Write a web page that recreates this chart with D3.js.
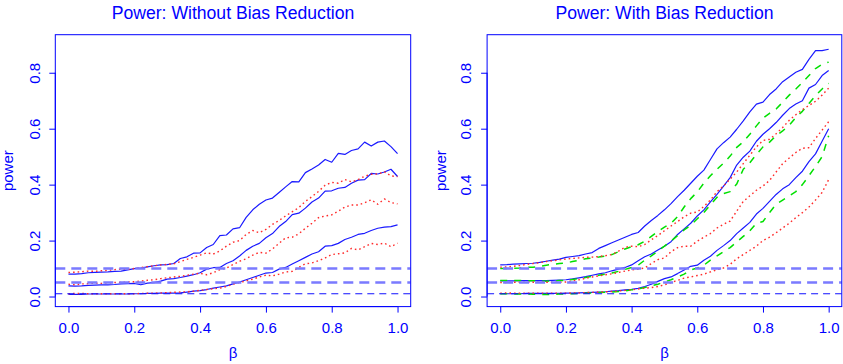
<!DOCTYPE html>
<html><head><meta charset="utf-8">
<script src="https://cdn.jsdelivr.net/npm/d3@7"></script>
<style>body{margin:0;background:#fff}svg{display:block}</style>
</head><body>
<svg id="c" width="843" height="364"></svg>
<script>
const beta = [0.00,0.02,0.04,0.06,0.08,0.10,0.12,0.14,0.16,0.18,0.20,0.22,0.24,0.26,0.28,0.30,0.32,0.34,0.36,0.38,0.40,0.42,0.44,0.46,0.48,0.50,0.52,0.54,0.56,0.58,0.60,0.62,0.64,0.66,0.68,0.70,0.72,0.74,0.76,0.78,0.80,0.82,0.84,0.86,0.88,0.90,0.92,0.94,0.96,0.98,1.00];
const xTicks = [0, 0.2, 0.4, 0.6, 0.8, 1.0];
const yTicks = [0, 0.2, 0.4, 0.6, 0.8];
const refLevels = [0.10, 0.05, 0.01];
const titles = ["Power: Without Bias Reduction", "Power: With Bias Reduction"];

// Without bias reduction
const noBR_blue1 = [.080,.080,.082,.085,.086,.087,.088,.090,.091,.095,.100,.102,.106,.110,.113,.114,.118,.136,.142,.155,.156,.175,.186,.218,.220,.242,.246,.283,.310,.330,.345,.352,.372,.392,.411,.410,.443,.456,.470,.490,.480,.512,.508,.522,.528,.552,.538,.552,.556,.536,.511];
const noBR_blue2 = [.038,.037,.038,.040,.041,.042,.042,.043,.045,.046,.047,.042,.048,.050,.055,.062,.064,.068,.073,.078,.085,.098,.103,.104,.118,.128,.145,.165,.180,.190,.210,.225,.250,.268,.293,.298,.316,.338,.352,.377,.378,.387,.390,.405,.416,.418,.440,.438,.445,.455,.429];
const noBR_blue3 = [.008,.008,.008,.009,.009,.009,.009,.009,.009,.009,.010,.010,.011,.011,.012,.012,.012,.013,.016,.019,.021,.025,.030,.034,.038,.045,.052,.060,.068,.076,.084,.086,.098,.104,.116,.128,.140,.152,.160,.180,.182,.190,.204,.212,.222,.226,.236,.244,.248,.250,.256];
const noBR_red1 = [.086,.087,.089,.091,.090,.092,.094,.096,.098,.097,.100,.103,.107,.110,.113,.115,.117,.125,.133,.140,.148,.156,.152,.163,.180,.194,.200,.222,.236,.228,.240,.258,.272,.288,.303,.318,.340,.357,.376,.398,.408,.405,.418,.410,.418,.430,.437,.438,.446,.431,.429];
const noBR_red2 = [.044,.042,.045,.046,.048,.047,.049,.050,.051,.052,.053,.055,.058,.060,.064,.067,.070,.072,.076,.080,.083,.078,.085,.096,.102,.114,.126,.135,.148,.158,.155,.170,.190,.210,.212,.224,.244,.262,.282,.288,.292,.305,.320,.327,.327,.335,.346,.330,.349,.336,.331];
const noBR_red3 = [.010,.011,.011,.010,.010,.010,.010,.010,.010,.010,.010,.011,.012,.012,.013,.014,.015,.016,.017,.019,.022,.025,.028,.030,.036,.044,.050,.056,.062,.070,.076,.074,.080,.088,.090,.104,.117,.120,.128,.138,.150,.153,.156,.172,.167,.178,.190,.186,.191,.178,.191];

// With bias reduction
const BR_blue1 = [.113,.114,.116,.117,.118,.119,.122,.126,.130,.134,.140,.143,.146,.152,.157,.172,.182,.192,.202,.212,.222,.229,.252,.272,.290,.310,.332,.357,.380,.405,.430,.452,.490,.528,.550,.570,.598,.628,.660,.688,.695,.722,.742,.768,.785,.802,.812,.848,.879,.879,.884];
const BR_blue2 = [.056,.056,.056,.057,.057,.057,.057,.057,.058,.059,.060,.063,.067,.071,.076,.081,.085,.092,.098,.104,.113,.128,.142,.152,.166,.180,.196,.222,.242,.262,.288,.310,.338,.365,.395,.425,.470,.498,.520,.555,.580,.600,.622,.648,.672,.688,.700,.745,.758,.790,.808];
const BR_blue3 = [.010,.010,.010,.010,.011,.011,.011,.011,.011,.011,.012,.012,.013,.014,.015,.016,.017,.019,.021,.024,.026,.029,.036,.044,.054,.064,.070,.082,.095,.108,.112,.130,.144,.165,.182,.200,.225,.245,.265,.295,.315,.340,.365,.385,.400,.425,.448,.482,.510,.555,.600];
const BR_green1 = [.100,.100,.101,.102,.104,.105,.108,.112,.115,.118,.120,.125,.130,.135,.138,.141,.145,.150,.160,.170,.178,.185,.198,.215,.232,.248,.262,.286,.320,.350,.374,.405,.432,.455,.477,.502,.533,.553,.580,.610,.638,.655,.670,.695,.720,.742,.765,.790,.815,.830,.838];
const BR_green2 = [.057,.057,.057,.057,.057,.056,.056,.055,.056,.057,.058,.061,.064,.068,.072,.076,.080,.084,.090,.097,.104,.112,.130,.145,.163,.180,.198,.218,.238,.255,.278,.300,.328,.355,.368,.375,.402,.455,.478,.508,.535,.552,.575,.592,.612,.640,.662,.690,.718,.742,.762];
const BR_green3 = [.010,.010,.009,.009,.009,.008,.008,.007,.008,.009,.009,.010,.011,.012,.013,.014,.015,.016,.018,.020,.024,.027,.032,.038,.044,.052,.060,.070,.080,.095,.102,.112,.130,.145,.160,.175,.195,.215,.235,.262,.268,.300,.330,.345,.360,.375,.400,.432,.465,.500,.575];
const BR_red1 = [.105,.106,.108,.111,.115,.118,.121,.125,.128,.131,.134,.136,.138,.140,.141,.143,.146,.150,.162,.176,.180,.178,.186,.203,.218,.235,.252,.268,.285,.298,.302,.322,.345,.375,.395,.420,.445,.475,.505,.535,.558,.562,.582,.604,.630,.650,.668,.683,.698,.720,.745];
const BR_red2 = [.050,.050,.051,.051,.051,.051,.051,.051,.051,.051,.052,.056,.060,.065,.070,.074,.078,.081,.086,.091,.095,.098,.102,.118,.132,.138,.160,.175,.180,.180,.198,.212,.225,.245,.258,.270,.305,.340,.360,.380,.395,.415,.445,.475,.495,.515,.530,.532,.565,.595,.625];
const BR_red3 = [.012,.013,.012,.012,.012,.012,.012,.012,.012,.012,.012,.013,.013,.014,.015,.016,.017,.018,.020,.022,.024,.027,.030,.032,.036,.042,.050,.058,.066,.070,.075,.080,.088,.096,.102,.115,.135,.150,.165,.180,.200,.212,.228,.245,.262,.282,.300,.320,.345,.372,.418];

const BLUE = "#0000ff";
const styles = {
  blue:  {stroke: "#1a1aff", width: 1.2, dash: null},
  green: {stroke: "#00e000", width: 1.5, dash: "7,7"},
  red:   {stroke: "#ff2a2a", width: 1.4, dash: "1.6,3"}
};
const panels = [
  {title: titles[0], x0: 55.3, x1: 410.7,
   series: [["blue", noBR_blue1], ["blue", noBR_blue2], ["blue", noBR_blue3],
            ["red", noBR_red1], ["red", noBR_red2], ["red", noBR_red3]],
   ylabX: 12.8, tickLabX: 40},
  {title: titles[1], x0: 487.1, x1: 841.8,
   series: [["blue", BR_blue1], ["blue", BR_blue2], ["blue", BR_blue3],
            ["green", BR_green1], ["green", BR_green2], ["green", BR_green3],
            ["red", BR_red1], ["red", BR_red2], ["red", BR_red3]],
   ylabX: 445.8, tickLabX: 471}
];
const FONT = "'Liberation Sans', Arial, Helvetica, sans-serif";
const svg = d3.select("#c");
const yTop = 34.7, yBot = 306.6;

panels.forEach((p, pi) => {
  const x = d3.scaleLinear().domain([-0.04, 1.04]).range([p.x0, p.x1]);
  const y = d3.scaleLinear().domain([-0.036, 0.936]).range([yBot, yTop]);
  const g = svg.append("g");
  const clipId = "clip" + pi;
  svg.append("clipPath").attr("id", clipId).append("rect")
    .attr("x", p.x0).attr("y", yTop).attr("width", p.x1 - p.x0).attr("height", yBot - yTop);
  const plot = g.append("g").attr("clip-path", `url(#${clipId})`);

  const line = d3.line().x((d, i) => x(beta[i])).y(d => y(d));
  p.series.forEach(([kind, vals]) => {
    const s = styles[kind];
    plot.append("path").datum(vals).attr("d", line)
      .attr("fill", "none").attr("stroke", s.stroke)
      .attr("stroke-width", s.width)
      .attr("stroke-dasharray", s.dash)
      .attr("stroke-linejoin", "round");
  });

  refLevels.forEach((lv, i) => {
    const light = i < 2;
    plot.append("line")
      .attr("x1", p.x0).attr("x2", p.x1)
      .attr("y1", y(lv)).attr("y2", y(lv))
      .attr("stroke", light ? "#7a7aff" : "#1010ff")
      .attr("stroke-width", light ? 2.6 : 1.2)
      .attr("stroke-dasharray", light ? "10,6" : "7,5");
  });

  // box
  g.append("rect").attr("x", p.x0).attr("y", yTop)
    .attr("width", p.x1 - p.x0).attr("height", yBot - yTop)
    .attr("fill", "none").attr("stroke", BLUE).attr("stroke-width", 1);

  // x axis
  const xa = g.append("g").attr("transform", `translate(0,${yBot})`)
    .call(d3.axisBottom(x).tickValues(xTicks).tickSize(6).tickSizeOuter(0).tickFormat(d3.format(".1f")));
  xa.select(".domain").attr("d", `M${x(0)},0H${x(1)}`).attr("stroke", BLUE);
  xa.selectAll(".tick line").attr("stroke", BLUE);
  xa.selectAll(".tick text").attr("fill", BLUE).attr("font-family", FONT).attr("font-size", 15)
    .attr("y", 26.5).attr("dy", null);

  // y axis
  const ya = g.append("g").attr("transform", `translate(${p.x0},0)`)
    .call(d3.axisLeft(y).tickValues(yTicks).tickSize(6).tickSizeOuter(0).tickFormat(d3.format(".1f")));
  ya.select(".domain").attr("d", `M0,${y(0)}V${y(0.8)}`).attr("stroke", BLUE);
  ya.selectAll(".tick line").attr("stroke", BLUE);
  ya.selectAll(".tick text").attr("fill", BLUE).attr("font-family", FONT).attr("font-size", 15)
    .attr("x", null).attr("dy", null)
    .attr("text-anchor", "middle")
    .attr("transform", `translate(${p.tickLabX - p.x0},0) rotate(-90)`);

  // labels
  const cx = (x(0) + x(1)) / 2;
  g.append("text").attr("x", cx).attr("y", 18.5).attr("text-anchor", "middle")
    .attr("fill", BLUE).attr("font-family", FONT).attr("font-size", 17.6).text(p.title);
  g.append("text").attr("x", cx).attr("y", 357.5).attr("text-anchor", "middle")
    .attr("fill", BLUE).attr("font-family", FONT).attr("font-size", 15).text("β");
  g.append("text").attr("transform", `translate(${p.ylabX},${(yTop + yBot) / 2}) rotate(-90)`)
    .attr("text-anchor", "middle")
    .attr("fill", BLUE).attr("font-family", FONT).attr("font-size", 15).text("power");
});
</script>
</body></html>
